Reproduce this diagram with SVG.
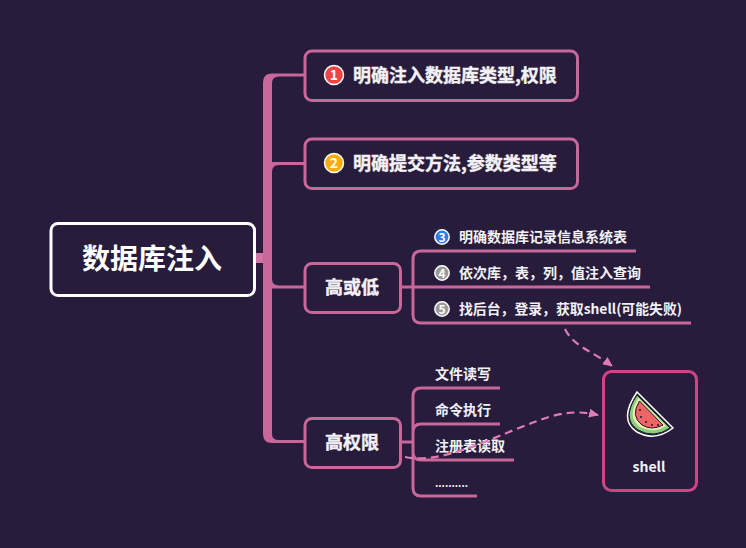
<svg xmlns="http://www.w3.org/2000/svg" width="746" height="548" viewBox="0 0 746 548">
<style>
text{font-family:"Noto Sans CJK SC","Noto Sans",sans-serif;font-weight:700;fill:#f4f1f6}
.box{fill:#271c3b;stroke:#c9679a;stroke-width:3}
.ln{fill:none;stroke:#c9679a;stroke-width:3}
.fill{fill:#c9679a}
.dash{fill:none;stroke:#e07ab8;stroke-width:2.200;stroke-dasharray:8 5}
.b{font-size:18px;stroke:#f4f1f6;stroke-width:.4}.m{font-size:18px;text-anchor:middle;stroke:#f4f1f6;stroke-width:.4}.s{font-size:14px}
.num{font-size:14px;text-anchor:middle}
.badge{stroke:#fff;stroke-width:1.500}
</style>
<defs><marker id="ah" markerWidth="12" markerHeight="10" refX="9" refY="4.500" orient="auto" markerUnits="userSpaceOnUse"><path d="M0 0L10 4.500L0 9Z" fill="#e07ab8"/></marker></defs>
<rect width="746" height="548" fill="#271c3b"/>
<g id="connectors">
<path d="M254 258H265" fill="none" stroke="#d374a6" stroke-width="10"/>
<path d="M263 82Q263 73.500 272 73.500H304V76.500H279Q272 76.500 272 83V434Q272 440 279 440H304V443H272Q263 443 263 434Z" class="fill"/>
<path class="fill" d="M272 162H304V165H279Q272 165 272 172Z"/>
<path class="fill" d="M272 279Q272 285.500 279 285.500H304V288.500H272Z"/>
<path d="M401 287H413M636 251H421Q413 251 413 259V315Q413 323 421 323H691M413 287H650" class="ln"/>
<path d="M401 442H413M500 388H421Q413 388 413 396V488Q413 496 421 496H477M500 424H421Q413 424 413 432V452Q413 460 421 460H514" class="ln"/>
</g>
<g id="root"><rect x="51" y="223.500" width="203.500" height="72" rx="7" fill="#271c3b" stroke="#fff" stroke-width="3"/><text x="152" y="269" font-size="28" text-anchor="middle" style="fill:#fff">数据库注入</text></g>
<g id="n1"><rect class="box" x="305" y="51" width="272.500" height="49.500" rx="7"/><circle class="badge" cx="334" cy="75" r="9.500" fill="#f04444"/><text class="num" x="334" y="80" style="fill:#fff">1</text><text class="b" x="353" y="81.500">明确注入数据库类型,权限</text></g>
<g id="n2"><rect class="box" x="305" y="139" width="272.500" height="49.500" rx="7"/><circle class="badge" cx="334" cy="163" r="9.500" fill="#fbad0d"/><text class="num" x="334" y="168" style="fill:#fff">2</text><text class="b" x="353" y="169.500">明确提交方法,参数类型等</text></g>
<g id="n3"><rect class="box" x="305" y="263.500" width="95.500" height="49" rx="7"/><text class="m" x="352" y="294">高或低</text></g>
<g id="n4"><rect class="box" x="305" y="418.500" width="95.500" height="49" rx="7"/><text class="m" x="352" y="449">高权限</text></g>
<g id="t3"><circle class="badge" cx="442" cy="237" r="7.200" fill="#2f7be8"/><text x="442" y="241.500" font-size="12" text-anchor="middle" style="fill:#fff">3</text><text class="s" x="459" y="242">明确数据库记录信息系统表</text></g>
<g id="t4"><circle class="badge" cx="442" cy="273" r="7.200" fill="#9a9a9a"/><text x="442" y="277.500" font-size="12" text-anchor="middle" style="fill:#fff">4</text><text class="s" x="459" y="278">依次库，表，列，值注入查询</text></g>
<g id="t5"><circle class="badge" cx="442" cy="309" r="7.200" fill="#9a9a9a"/><text x="442" y="313.500" font-size="12" text-anchor="middle" style="fill:#fff">5</text><text class="s" x="459" y="314" textLength="223" lengthAdjust="spacingAndGlyphs">找后台，登录，获取shell(可能失败)</text></g>
<g id="l1"><text class="s" x="435" y="379">文件读写</text></g>
<g id="l2"><text class="s" x="435" y="415">命令执行</text></g>
<g id="l3"><text class="s" x="435" y="451">注册表读取</text></g>
<g id="l4"><text x="435" y="487" font-size="10" textLength="33" lengthAdjust="spacingAndGlyphs">..........</text></g>
<g id="shell"><rect x="603.500" y="371.500" width="93" height="119" rx="8" fill="#271c3b" stroke="#cf4487" stroke-width="3"/>
<path d="M637 392L673 428Q655 442 637 432Q618 420 637 392Z" fill="#271c3b" stroke="#fff" stroke-width="1.500"/>
<path d="M637 395L670 428Q654 439 638 430Q621 419 637 395Z" fill="#86d07c" stroke="#1d1b2a" stroke-width="1"/>
<path d="M638.500 398L666 426Q653 434 640 427Q626 417 638.500 398Z" fill="#f6e7b5"/>
<path d="M639.500 401L663 425Q652 431 642 425Q630 416 639.500 401Z" fill="#ef6464" stroke="#1d1b2a" stroke-width="1"/>
<g fill="#1d1b2a"><circle cx="640" cy="410" r="1"/><circle cx="641" cy="417" r="1"/><circle cx="646" cy="422" r="1"/><circle cx="652" cy="425" r="1"/><circle cx="658" cy="425" r="1"/></g>
<text x="649" y="472" font-size="14" text-anchor="middle">shell</text></g>
<g id="relations">
<path class="dash" d="M405 457C420 460 440 459 477 445C500 436 520 427 540 420C565 411 580 411 598 415" marker-end="url(#ah)"/>
<path class="dash" d="M565 329C573 346 592 351 612 366" marker-end="url(#ah)"/>
</g>
</svg>
